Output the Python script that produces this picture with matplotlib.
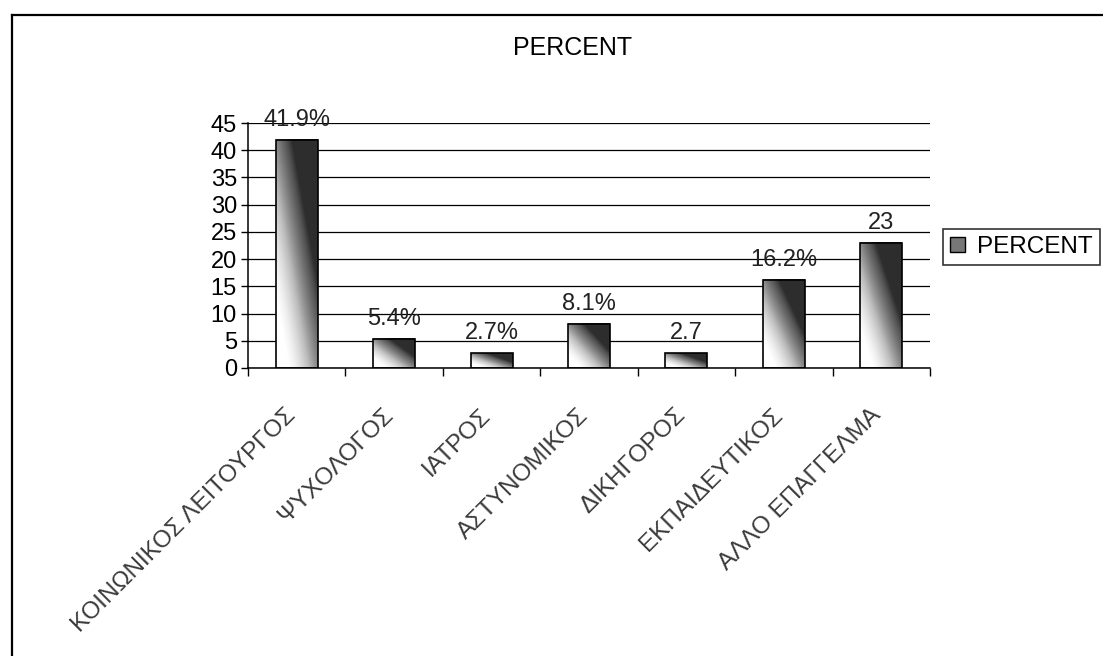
import numpy as np
import matplotlib.pyplot as plt
from matplotlib.patches import Patch
from matplotlib.lines import Line2D
from matplotlib.transforms import ScaledTranslation

plt.rcParams['font.family'] = ['Liberation Sans', 'DejaVu Sans']

# data
categories = ['ΚΟΙΝΩΝΙΚΟΣ ΛΕΙΤΟΥΡΓΟΣ', 'ΨΥΧΟΛΟΓΟΣ', 'ΙΑΤΡΟΣ', 'ΑΣΤΥΝΟΜΙΚΟΣ',
              'ΔΙΚΗΓΟΡΟΣ', 'ΕΚΠΑΙΔΕΥΤΙΚΟΣ', 'ΑΛΛΟ ΕΠΑΓΓΕΛΜΑ']
values = [41.9, 5.4, 2.7, 8.1, 2.7, 16.2, 23]
value_labels = ['41.9%', '5.4%', '2.7%', '8.1%', '2.7', '16.2%', '23']
yticks = [0, 5, 10, 15, 20, 25, 30, 35, 40, 45]

W, H = 1103, 656
fig = plt.figure(figsize=(W / 100, H / 100), dpi=100)
fig.patch.set_facecolor('white')
ax = fig.add_axes([248 / W, 288 / H, 682 / W, 245 / H])

x = np.arange(len(categories))
bw = 0.43

# diagonal gradient: white bottom-left, dark top-right
gx, gy = np.meshgrid(np.linspace(0, 1, 60), np.linspace(0, 1, 200))
shade = np.clip(0.8 * gx + 0.8 * gy - 0.25, 0, 0.85)

for xi, v in zip(x, values):
    ax.imshow(shade, extent=[xi - bw / 2, xi + bw / 2, 0, v], origin='lower',
              aspect='auto', cmap='Greys', vmin=0, vmax=1, zorder=2,
              interpolation='bilinear')
ax.bar(x, values, width=bw, facecolor='none', edgecolor='black', linewidth=1.2, zorder=3)

for xi, v, lbl in zip(x, values, value_labels):
    ax.annotate(lbl, (xi, v), xytext=(0, 10), textcoords='offset points',
                ha='center', va='baseline', fontsize=17, color='#222222')

ax.set_xlim(-0.5, len(categories) - 0.5)
ax.set_ylim(0, 45)
ax.set_yticks(yticks)
ax.tick_params(axis='y', labelsize=17, length=5, direction='out', colors='black',
               width=1, pad=3)
ax.yaxis.grid(True, color='black', linewidth=0.9)
ax.set_axisbelow(True)

ax.set_xticks(x)
ax.set_xticks(np.arange(-0.5, len(categories), 1), minor=True)
ax.tick_params(axis='x', which='major', length=0, pad=26)
ax.tick_params(axis='x', which='minor', length=6, direction='out', width=1)
ax.set_xticklabels(categories, rotation=45, ha='right', rotation_mode='anchor',
                   fontsize=17.5, color='#3a3a3a')
shift = ScaledTranslation(-12 / 100, 0, fig.dpi_scale_trans)
for lab in ax.get_xticklabels():
    lab.set_transform(lab.get_transform() + shift)

for s in ['top', 'right']:
    ax.spines[s].set_visible(False)
for s in ['left', 'bottom']:
    ax.spines[s].set_color('black')
    ax.spines[s].set_linewidth(1.1)

fig.text(573 / W, 1 - 48 / H, 'PERCENT', ha='center', va='center', fontsize=18)

# outer chart border
fig.add_artist(Line2D([12 / W, 12 / W], [0, 1 - 15 / H], transform=fig.transFigure,
                      color='black', linewidth=1.6))
fig.add_artist(Line2D([12 / W, 1], [1 - 15 / H, 1 - 15 / H], transform=fig.transFigure,
                      color='black', linewidth=1.6))

leg = fig.legend(handles=[Patch(facecolor='#777777', edgecolor='black', label='PERCENT')],
                 loc='center left', bbox_to_anchor=(943 / W, 1 - 247 / H), frameon=True,
                 fancybox=False, edgecolor='black', fontsize=17.5, handlelength=0.6,
                 handleheight=0.6, borderpad=0.3, handletextpad=0.5, borderaxespad=0)
leg.get_frame().set_linewidth(1.2)

fig.savefig('out.png', dpi=100)
